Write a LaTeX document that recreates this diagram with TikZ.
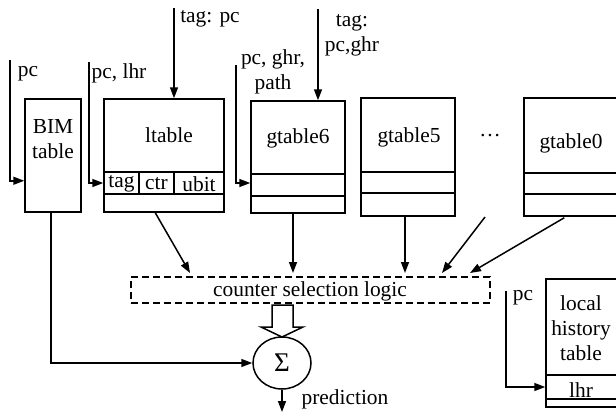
\documentclass[tikz,border=0pt]{standalone}
\usepackage{fontspec}
\setmainfont{Liberation Serif}
\usetikzlibrary{arrows.meta,calc,shapes.geometric}
\begin{document}
\begin{tikzpicture}[x=1pt,y=-1pt,line width=1.5pt,
  box/.style={draw,rectangle,inner sep=0pt,line width=1.5pt},
  lbl/.style={inner sep=0pt,align=center,font=\fontsize{21.4}{25}\selectfont},
  arr/.style={-{Triangle[length=11pt,width=8pt]},line width=1.5pt},
  dashbox/.style={draw,rectangle,inner sep=0pt,line width=1.5pt,dash pattern=on 7pt off 4pt},
]
\useasboundingbox (0,0) rectangle (616,413);

% tables
\node[box,minimum width=56pt,minimum height=113pt] (bim) at (53,155.5) {};
\node[lbl] (bimt) at (53,139) {BIM\\table};

\node[box,minimum width=120pt,minimum height=113pt] (ltable) at (164,155.5) {};
\node[lbl] (ltt) at (169,135) {ltable};
\node[box,minimum width=35pt,minimum height=22pt] (tagc) at (121.5,183) {};
\node[box,minimum width=35pt,minimum height=22pt] (ctrc) at (156.5,183) {};
\node[box,minimum width=50pt,minimum height=22pt] (ubitc) at (199,183) {};
\node[lbl] at ($(tagc)+(0,1)$) {tag};
\node[lbl] at ($(ctrc)+(0,1)$) {ctr};
\node[lbl] at ($(ubitc)+(0,1)$) {ubit};

\node[box,minimum width=94pt,minimum height=112pt] (gt6) at (298,157) {};
\node[lbl] at (298,138) {gtable6};
\node[box,minimum width=94pt,minimum height=22pt] (gt6r) at (298,185) {};

\node[box,minimum width=94pt,minimum height=118pt] (gt5) at (408,157) {};
\node[lbl] at (409,137) {gtable5};
\node[box,minimum width=94pt,minimum height=21pt] (gt5r) at (408,182.5) {};

\node[lbl] (dots) at (490,136) {…};

\node[box,minimum width=96pt,minimum height=118pt] (gt0) at (572,157) {};
\node[lbl] at (571,143) {gtable0};
\node[box,minimum width=96pt,minimum height=21pt] (gt0r) at (572,183.5) {};

\node[dashbox,minimum width=359pt,minimum height=26pt] (csl) at (310.5,290) {};
\node[lbl] at (310,291) {counter selection logic};

\node[draw,ellipse,inner sep=0pt,minimum width=58pt,minimum height=52pt,line width=1.5pt] (sigma) at (282,363) {};
\node[lbl,font=\fontsize{27}{30}\selectfont] at (282,363) {Σ};

\node[box,minimum width=74pt,minimum height=128pt] (lht) at (583,343) {};
\node[lbl] at (581,328) {local\\history\\table};
\node[box,minimum width=74pt,minimum height=24pt] (lhrc) at (583,387) {};
\node[lbl] at (581,390) {lhr};

% input arrows
\coordinate (pcA) at (10,60);
\draw[arr] (pcA) |- ($(bim.south west)+(0,-32)$);
\node[lbl] at (28,74) {pc};

\coordinate (pcB) at (89,62);
\draw[arr] (pcB) |- (tagc.west);
\node[lbl] at (119,73) {pc, lhr};

\coordinate (tagA) at (174,8);
\draw[arr] (tagA) -- (tagA |- ltable.north);
\node[lbl] at (210,19) {tag: pc};

\coordinate (pcC) at (236,65);
\draw[arr] (pcC) |- ($(gt6r.west)+(0,-2)$);
\node[lbl] at (273,72) {pc, ghr,\\path};

\coordinate (tagB) at (318,9);
\draw[arr] (tagB) -- (tagB |- gt6.north);
\node[lbl] at (352,35) {tag:\\pc,ghr};

\coordinate (pcD) at (506,291);
\draw[arr] (pcD) |- (lhrc.west);
\node[lbl] at (523,298) {pc};

% to counter selection logic
\coordinate (e1) at (190,273);
\coordinate (e2) at (293,273);
\coordinate (e3) at (405,273);
\coordinate (e4) at (442,273);
\coordinate (e5) at (470,273);
\coordinate (s4) at (485,217);
\draw[arr] ($(ltable.south west)+(52,0)$) -- (e1);
\draw[arr] (gt6.south -| e2) -- (e2);
\draw[arr] (gt5.south -| e3) -- (e3);
\draw[arr] (s4) -- (e4);
\draw[arr] ($(gt0.south west)+(41,1)$) -- (e5);

% hollow arrow
\draw[line width=1.5pt,fill=white] (272,305) -- (293,305) -- (293,327) -- (303,327) -- (282,337) -- (261,327) -- (272,327) -- cycle;

% bim to sigma
\draw[arr] ($(bim.south)+(-2,0)$) |- (sigma.west);

% prediction
\coordinate (out) at (282,412);
\draw[arr] (sigma.south) -- (out);
\node[lbl] at (345,399) {prediction};
\end{tikzpicture}
\end{document}
